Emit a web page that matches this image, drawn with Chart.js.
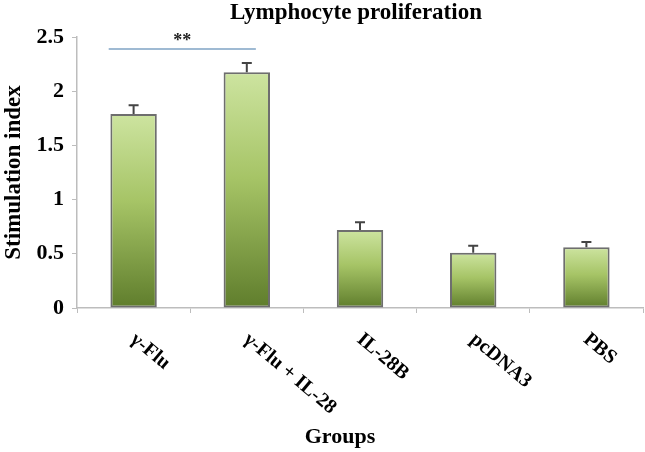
<!DOCTYPE html>
<html>
<head>
<meta charset="utf-8">
<script src="https://cdn.jsdelivr.net/npm/chart.js@4/dist/chart.umd.min.js"></script>
<style>
  html, body { margin: 0; padding: 0; background: #fff; }
  #wrap { width: 645px; height: 452px; }
</style>
</head>
<body>
<div id="wrap"><canvas id="myChart" width="645" height="452"></canvas></div>
<script>
const groups = ['γ-Flu', 'γ-Flu + IL-28', 'IL-28B', 'pcDNA3', 'PBS']
const stimIndex = [1.79, 2.175, 0.72, 0.51, 0.56]
const stimError = [0.08, 0.085, 0.07, 0.065, 0.05]
const yTicks = [0, 0.5, 1, 1.5, 2, 2.5]
// significance bracket between the first two groups
const sigFrom = -0.22
const sigTo = 1.08
const sigLevel = 2.39
const sigLabel = '**'

const serif = '"Liberation Serif", "Times New Roman", serif'

// helper plugin: title, error bars, significance line, slanted group names, x title
const extras = {
    id: 'extras',
    afterDatasetsDraw(chart) {
        const ctx = chart.ctx
        const x = chart.scales.x
        const y = chart.scales.y
        const area = chart.chartArea

        // error bars
        ctx.save()
        ctx.strokeStyle = '#444'
        ctx.lineWidth = 2
        for (let i = 0; i < stimIndex.length; i++) {
            let px = x.getPixelForValue(i)
            let top = y.getPixelForValue(stimIndex[i] + stimError[i])
            let base = y.getPixelForValue(stimIndex[i])
            ctx.beginPath()
            ctx.moveTo(px, base)
            ctx.lineTo(px, top)
            ctx.moveTo(px - 5, top)
            ctx.lineTo(px + 5, top)
            ctx.stroke()
        }
        ctx.restore()

        // significance line
        ctx.save()
        ctx.strokeStyle = '#9fbad3'
        ctx.lineWidth = 2
        let sy = y.getPixelForValue(sigLevel)
        ctx.beginPath()
        ctx.moveTo(x.getPixelForValue(sigFrom), sy)
        ctx.lineTo(x.getPixelForValue(sigTo), sy)
        ctx.stroke()
        ctx.fillStyle = '#222'
        ctx.font = 'bold 18px ' + serif
        ctx.textAlign = 'center'
        ctx.textBaseline = 'middle'
        ctx.fillText(sigLabel, x.getPixelForValue((sigFrom + sigTo) / 2), sy - 8)
        ctx.restore()

        // title centred over the plot area
        ctx.save()
        ctx.fillStyle = '#000'
        ctx.font = 'bold 23px ' + serif
        ctx.textAlign = 'center'
        ctx.textBaseline = 'alphabetic'
        ctx.fillText('Lymphocyte proliferation', 356, 19)
        ctx.restore()

        // group names, slanted downwards to the right
        ctx.save()
        ctx.fillStyle = '#000'
        ctx.font = 'bold 20px ' + serif
        ctx.textAlign = 'left'
        ctx.textBaseline = 'alphabetic'
        for (let i = 0; i < groups.length; i++) {
            let px = x.getPixelForValue(i)
            ctx.save()
            ctx.translate(px - 4, area.bottom + 33)
            ctx.rotate(40 * Math.PI / 180)
            ctx.fillText(groups[i], 0, 0)
            ctx.restore()
        }
        ctx.restore()

        // x axis title
        ctx.save()
        ctx.fillStyle = '#000'
        ctx.font = 'bold 22px ' + serif
        ctx.textAlign = 'center'
        ctx.textBaseline = 'alphabetic'
        ctx.fillText('Groups', 340, 443)
        ctx.restore()
    }
}

function barGradient(context) {
    const chart = context.chart
    const y = chart.scales.y
    if (!chart.chartArea || !y || !context.parsed) return '#9bbb59'
    let top = y.getPixelForValue(context.parsed.y)
    let bottom = y.getPixelForValue(0)
    if (!isFinite(top) || !isFinite(bottom) || top === bottom) return '#9bbb59'
    let g = chart.ctx.createLinearGradient(0, top, 0, bottom)
    g.addColorStop(0, '#cde4a0')
    g.addColorStop(0.45, '#a6c466')
    g.addColorStop(1, '#5f7d2c')
    return g
}

document.addEventListener('DOMContentLoaded', function () {
    var ctx = document.getElementById('myChart').getContext('2d')
    new Chart(ctx, {
        type: 'bar',
        data: {
            labels: groups,
            datasets: [{
                label: 'Stimulation index',
                data: stimIndex,
                backgroundColor: barGradient,
                borderColor: '#6e6e6e',
                borderWidth: 2,
                borderSkipped: false,
                categoryPercentage: 1,
                barPercentage: 0.41
            }]
        },
        options: {
            responsive: false,
            animation: false,
            devicePixelRatio: 1,
            layout: { padding: { top: 37, right: 2, bottom: 0, left: 0 } },
            plugins: {
                legend: { display: false },
                tooltip: { enabled: false }
            },
            scales: {
                x: {
                    offset: true,
                    grid: { display: true, drawOnChartArea: false, offset: true, tickLength: 5, color: '#bdbdbd' },
                    border: { color: '#bdbdbd', width: 1.5 },
                    ticks: { display: false },
                    afterFit(scale) { scale.height = 144 }
                },
                y: {
                    min: 0,
                    max: 2.5,
                    afterBuildTicks(scale) { scale.ticks = yTicks.map(v => ({ value: v })) },
                    grid: { display: true, drawOnChartArea: false, tickLength: 5, color: '#bdbdbd' },
                    border: { color: '#bdbdbd', width: 1.5 },
                    ticks: {
                        color: '#000',
                        padding: 8,
                        font: { family: serif, size: 22, weight: 'bold' },
                        callback: function (value) { return String(value) }
                    },
                    title: {
                        display: true,
                        text: 'Stimulation index',
                        color: '#000',
                        font: { family: serif, size: 23, weight: 'bold' },
                        padding: { top: 0, bottom: 0 }
                    },
                    afterFit(scale) { scale.width = 77 }
                }
            }
        },
        plugins: [extras]
    })
})
</script>
</body>
</html>
